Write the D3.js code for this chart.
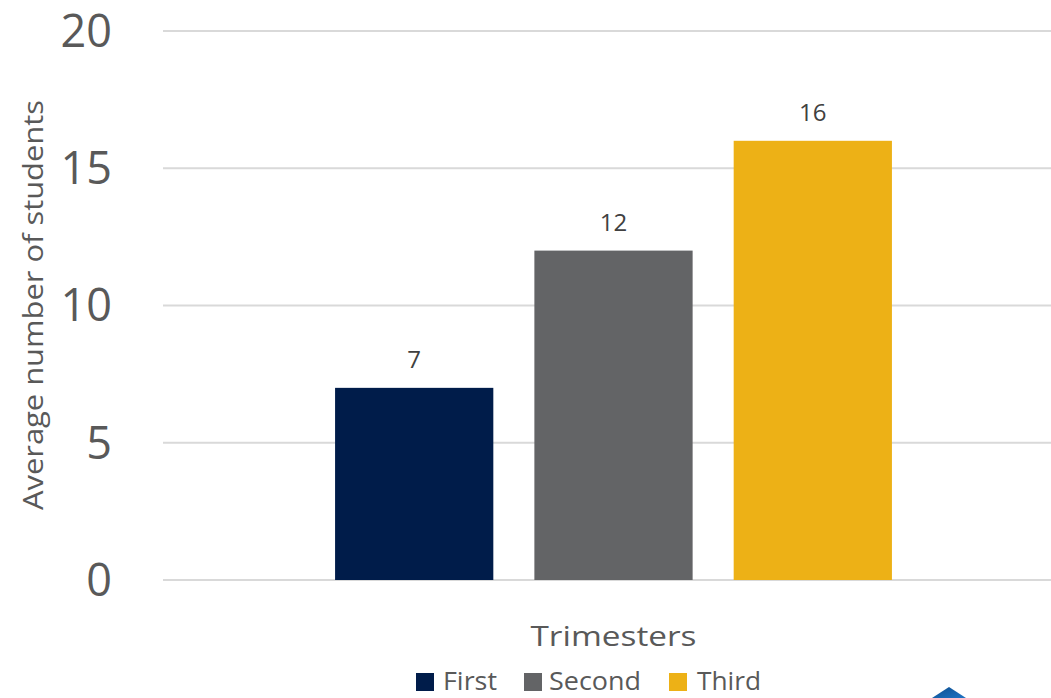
<!DOCTYPE html>
<html>
<head>
<meta charset="utf-8">
<script src="https://cdn.jsdelivr.net/npm/d3@7"></script>
<style>
  html, body { margin: 0; padding: 0; background: #fff; }
  svg { display: block; }
  text { font-family: "Open Sans", sans-serif; }
</style>
</head>
<body>
<svg id="chart" width="1051" height="698"></svg>
<script>
const categories = ["Trimesters"];
const series = ["First", "Second", "Third"];
const values = [7, 12, 16];
const colors = ["#001c4a", "#636466", "#edb116"];
const yTicks = [0, 5, 10, 15, 20];

const W = 1051, H = 698;
const margin = { left: 163, right: -13, top: 31, bottom: 118 };
const plotW = W - margin.left - margin.right;
const plotH = H - margin.top - margin.bottom;

const svg = d3.select("#chart");
const g = svg.append("g").attr("transform", `translate(${margin.left},${margin.top})`);

const y = d3.scaleLinear().domain([0, 20]).range([plotH, 0]);
const x0 = d3.scaleBand().domain(categories).range([0, plotW]).paddingOuter(0.309).paddingInner(0);
const x1 = d3.scaleBand().domain(series).range([0, x0.bandwidth()]).paddingInner(0.206).paddingOuter(0);

// gridlines
g.append("g").selectAll("line").data(yTicks).join("line")
  .attr("x1", 0).attr("x2", plotW)
  .attr("y1", d => y(d)).attr("y2", d => y(d))
  .attr("stroke", "#d9d9d9").attr("stroke-width", 2);

// y tick labels
const yAxis = d3.axisLeft(y).tickValues(yTicks).tickSize(0).tickPadding(51);
const ya = g.append("g").call(yAxis);
ya.select(".domain").remove();
ya.selectAll("text")
  .attr("font-family", "Open Sans, sans-serif")
  .attr("font-size", 45).attr("fill", "#595959")
  .attr("dy", "0.34em");

// bars
const grp = g.append("g").attr("transform", `translate(${x0(categories[0])},0)`);
grp.selectAll("rect").data(series).join("rect")
  .attr("x", d => x1(d)).attr("width", x1.bandwidth())
  .attr("y", (d, i) => y(values[i]))
  .attr("height", (d, i) => y(0) - y(values[i]))
  .attr("fill", (d, i) => colors[i]);

// data labels
grp.selectAll("text.lbl").data(series).join("text").attr("class", "lbl")
  .attr("x", d => x1(d) + x1.bandwidth() / 2)
  .attr("y", (d, i) => y(values[i]) - 20)
  .attr("text-anchor", "middle")
  .attr("font-size", 24).attr("fill", "#404040")
  .text((d, i) => values[i]);

// axis titles
svg.append("text")
  .attr("transform", `translate(43,305) rotate(-90)`)
  .attr("text-anchor", "middle")
  .attr("font-size", 27).attr("fill", "#595959")
  .attr("textLength", 410).attr("lengthAdjust", "spacingAndGlyphs")
  .text("Average number of students");

svg.append("text")
  .attr("x", margin.left + x0(categories[0]) + x0.bandwidth() / 2)
  .attr("y", 646)
  .attr("text-anchor", "middle")
  .attr("font-size", 27).attr("fill", "#595959")
  .attr("textLength", 166).attr("lengthAdjust", "spacingAndGlyphs")
  .text(categories[0]);

// legend
const legendItems = [
  { name: series[0], color: colors[0], x: 416, tx: 443, tw: 54 },
  { name: series[1], color: colors[1], x: 524, tx: 549, tw: 92 },
  { name: series[2], color: colors[2], x: 669, tx: 697, tw: 64 }
];
const lg = svg.append("g");
legendItems.forEach(it => {
  lg.append("rect").attr("x", it.x).attr("y", 673).attr("width", 18).attr("height", 18).attr("fill", it.color);
  lg.append("text").attr("x", it.tx).attr("y", 690)
    .attr("font-size", 25).attr("fill", "#595959")
    .attr("textLength", it.tw).attr("lengthAdjust", "spacingAndGlyphs")
    .text(it.name);
});

// partially visible logo (bottom right)
const grad = svg.append("defs").append("linearGradient").attr("id", "lg1")
  .attr("x1", 0).attr("y1", 0).attr("x2", 1).attr("y2", 1);
grad.append("stop").attr("offset", "0%").attr("stop-color", "#0d4f8f");
grad.append("stop").attr("offset", "100%").attr("stop-color", "#1f73c4");
svg.append("path").attr("d", "M949,687 L966,698 L932,698 Z").attr("fill", "url(#lg1)");
</script>
</body>
</html>
